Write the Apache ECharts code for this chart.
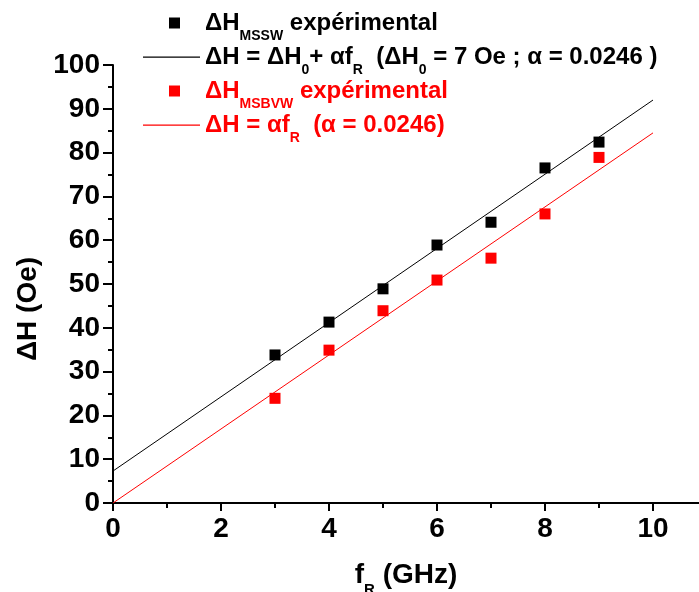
<!DOCTYPE html>
<html>
<head>
<meta charset="utf-8">
<script src="https://cdn.jsdelivr.net/npm/echarts@6/dist/echarts.min.js"></script>
<style>html,body{margin:0;padding:0;background:#fff}#c{width:699px;height:592px}</style>
</head>
<body>
<div id="c"></div>
<script>
// Data
var freqGHz = [3, 4, 5, 6, 7, 8, 9];
var dH_MSSW = [33.8, 41.3, 48.9, 58.9, 64.1, 76.5, 82.4];
var dH_MSBVW = [23.9, 34.9, 43.9, 50.9, 55.9, 66.0, 78.9];
var fitX = [0, 10];
var fitMSSW = [7.3, 92.0];
var fitMSBVW = [0, 84.5];
var xTicks = [0, 2, 4, 6, 8, 10];
var yTicks = [0, 10, 20, 30, 40, 50, 60, 70, 80, 90, 100];

var FONT = '"Liberation Sans", Arial, Helvetica, sans-serif';

function pairs(xs, ys) { return xs.map(function (x, i) { return [x, ys[i]]; }); }

var chart = echarts.init(document.getElementById('c'), null, { renderer: 'canvas' });

var legendNames = {
  MSSW: '{m|ΔH}{s|MSSW}{m| expérimental}',
  fitMSSW: '{m|ΔH = ΔH}{s|0}{m|+ αf}{s|R}{m|  (ΔH}{s|0}{m| = 7 Oe ; α = 0.0246 )}',
  MSBVW: '{m|ΔH}{s|MSBVW}{m| expérimental}',
  fitMSBVW: '{m|ΔH = αf}{s|R}{m|  (α = 0.0246)}'
};
var squareIcon = 'path://M0,0M57,11M26,0h11v11h-11z';
var lineIcon = 'path://M0,0M57,11M0,5h57v1.2h-57z';

chart.setOption({
  animation: false,
  backgroundColor: '#fff',
  textStyle: { fontFamily: FONT },
  grid: [
    { left: 113, right: 0, top: 65, bottom: 89, containLabel: false, outerBoundsMode: 'none' },
    { left: 113, right: 46, top: 65, bottom: 89, containLabel: false, outerBoundsMode: 'none' }
  ],
  legend: {
    orient: 'vertical',
    left: 138,
    top: -2,
    itemWidth: 57,
    itemHeight: 11,
    itemGap: -6,
    selectedMode: false,
    textStyle: {
      fontFamily: FONT,
      fontWeight: 'bold',
      fontSize: 24,
      rich: {
        m: { fontFamily: FONT, fontWeight: 'bold', fontSize: 24, lineHeight: 36 },
        s: { fontFamily: FONT, fontWeight: 'bold', fontSize: 14, lineHeight: 10, padding: [26, 0, 0, 0] }
      }
    },
    formatter: function (name) { return legendNames[name]; },
    data: [
      { name: 'MSSW', icon: squareIcon, itemStyle: { color: '#000', opacity: 1 }, textStyle: { color: '#000' } },
      { name: 'fitMSSW', icon: lineIcon, itemStyle: { color: '#000', opacity: 1 }, textStyle: { color: '#000' } },
      { name: 'MSBVW', icon: squareIcon, itemStyle: { color: '#ff0000', opacity: 1 }, textStyle: { color: '#ff0000' } },
      { name: 'fitMSBVW', icon: lineIcon, itemStyle: { color: '#ff0000', opacity: 1 }, textStyle: { color: '#ff0000' } }
    ]
  },
  xAxis: [
    {
      gridIndex: 0, type: 'value', min: 0, max: 10.85,
      name: '{t|f}{s|R}{t| (GHz)}',
      nameLocation: 'middle', nameGap: 52,
      nameTextStyle: {
        color: '#000',
        rich: {
          t: { fontFamily: FONT, fontWeight: 'bold', fontSize: 28, lineHeight: 40, color: '#000' },
          s: { fontFamily: FONT, fontWeight: 'bold', fontSize: 15, lineHeight: 10, padding: [30, 0, 0, 0], color: '#000' }
        }
      },
      axisLine: { show: true, onZero: false, lineStyle: { color: '#000', width: 2 } },
      axisTick: { show: false }, axisLabel: { show: false }, splitLine: { show: false }
    },
    {
      gridIndex: 1, type: 'value', min: 0, max: 10, interval: 2,
      axisLine: { show: false },
      axisTick: { show: true, inside: false, length: 8, lineStyle: { color: '#000', width: 2 } },
      minorTick: { show: true, splitNumber: 2, length: 5, lineStyle: { color: '#000', width: 2 } },
      axisLabel: {
        show: true, margin: 12, color: '#000', fontFamily: FONT, fontWeight: 'bold', fontSize: 28,
        formatter: function (v) { return xTicks.indexOf(v) >= 0 ? String(v) : ''; }
      },
      splitLine: { show: false }
    }
  ],
  yAxis: [
    {
      gridIndex: 0, type: 'value', min: 0, max: 100, show: false
    },
    {
      gridIndex: 1, type: 'value', min: 0, max: 100, interval: 10,
      name: 'ΔH (Oe)',
      nameLocation: 'middle', nameGap: 70,
      nameTextStyle: { color: '#000', fontFamily: FONT, fontWeight: 'bold', fontSize: 28, padding: [0, 50, 0, 0] },
      axisLine: { show: true, onZero: false, lineStyle: { color: '#000', width: 2 } },
      axisTick: { show: true, inside: false, length: 10, lineStyle: { color: '#000', width: 2 } },
      minorTick: { show: true, splitNumber: 2, length: 5, lineStyle: { color: '#000', width: 2 } },
      axisLabel: {
        show: true, margin: 13, color: '#000', fontFamily: FONT, fontWeight: 'bold', fontSize: 28,
        formatter: function (v) { return yTicks.indexOf(v) >= 0 ? String(v) : ''; }
      },
      splitLine: { show: false }
    }
  ],
  series: [
    {
      name: 'MSSW', type: 'scatter', xAxisIndex: 1, yAxisIndex: 1,
      symbol: 'rect', symbolSize: 11, itemStyle: { color: '#000', opacity: 1 },
      data: pairs(freqGHz, dH_MSSW), z: 5
    },
    {
      name: 'fitMSSW', type: 'line', xAxisIndex: 1, yAxisIndex: 1,
      symbol: 'none', showSymbol: false, lineStyle: { color: '#000', width: 1 }, itemStyle: { color: '#000' },
      data: pairs(fitX, fitMSSW), z: 3
    },
    {
      name: 'MSBVW', type: 'scatter', xAxisIndex: 1, yAxisIndex: 1,
      symbol: 'rect', symbolSize: 11, itemStyle: { color: '#ff0000', opacity: 1 },
      data: pairs(freqGHz, dH_MSBVW), z: 5
    },
    {
      name: 'fitMSBVW', type: 'line', xAxisIndex: 1, yAxisIndex: 1,
      symbol: 'none', showSymbol: false, lineStyle: { color: '#ff0000', width: 1 }, itemStyle: { color: '#ff0000' },
      data: pairs(fitX, fitMSBVW), z: 3
    }
  ]
});
</script>
</body>
</html>
